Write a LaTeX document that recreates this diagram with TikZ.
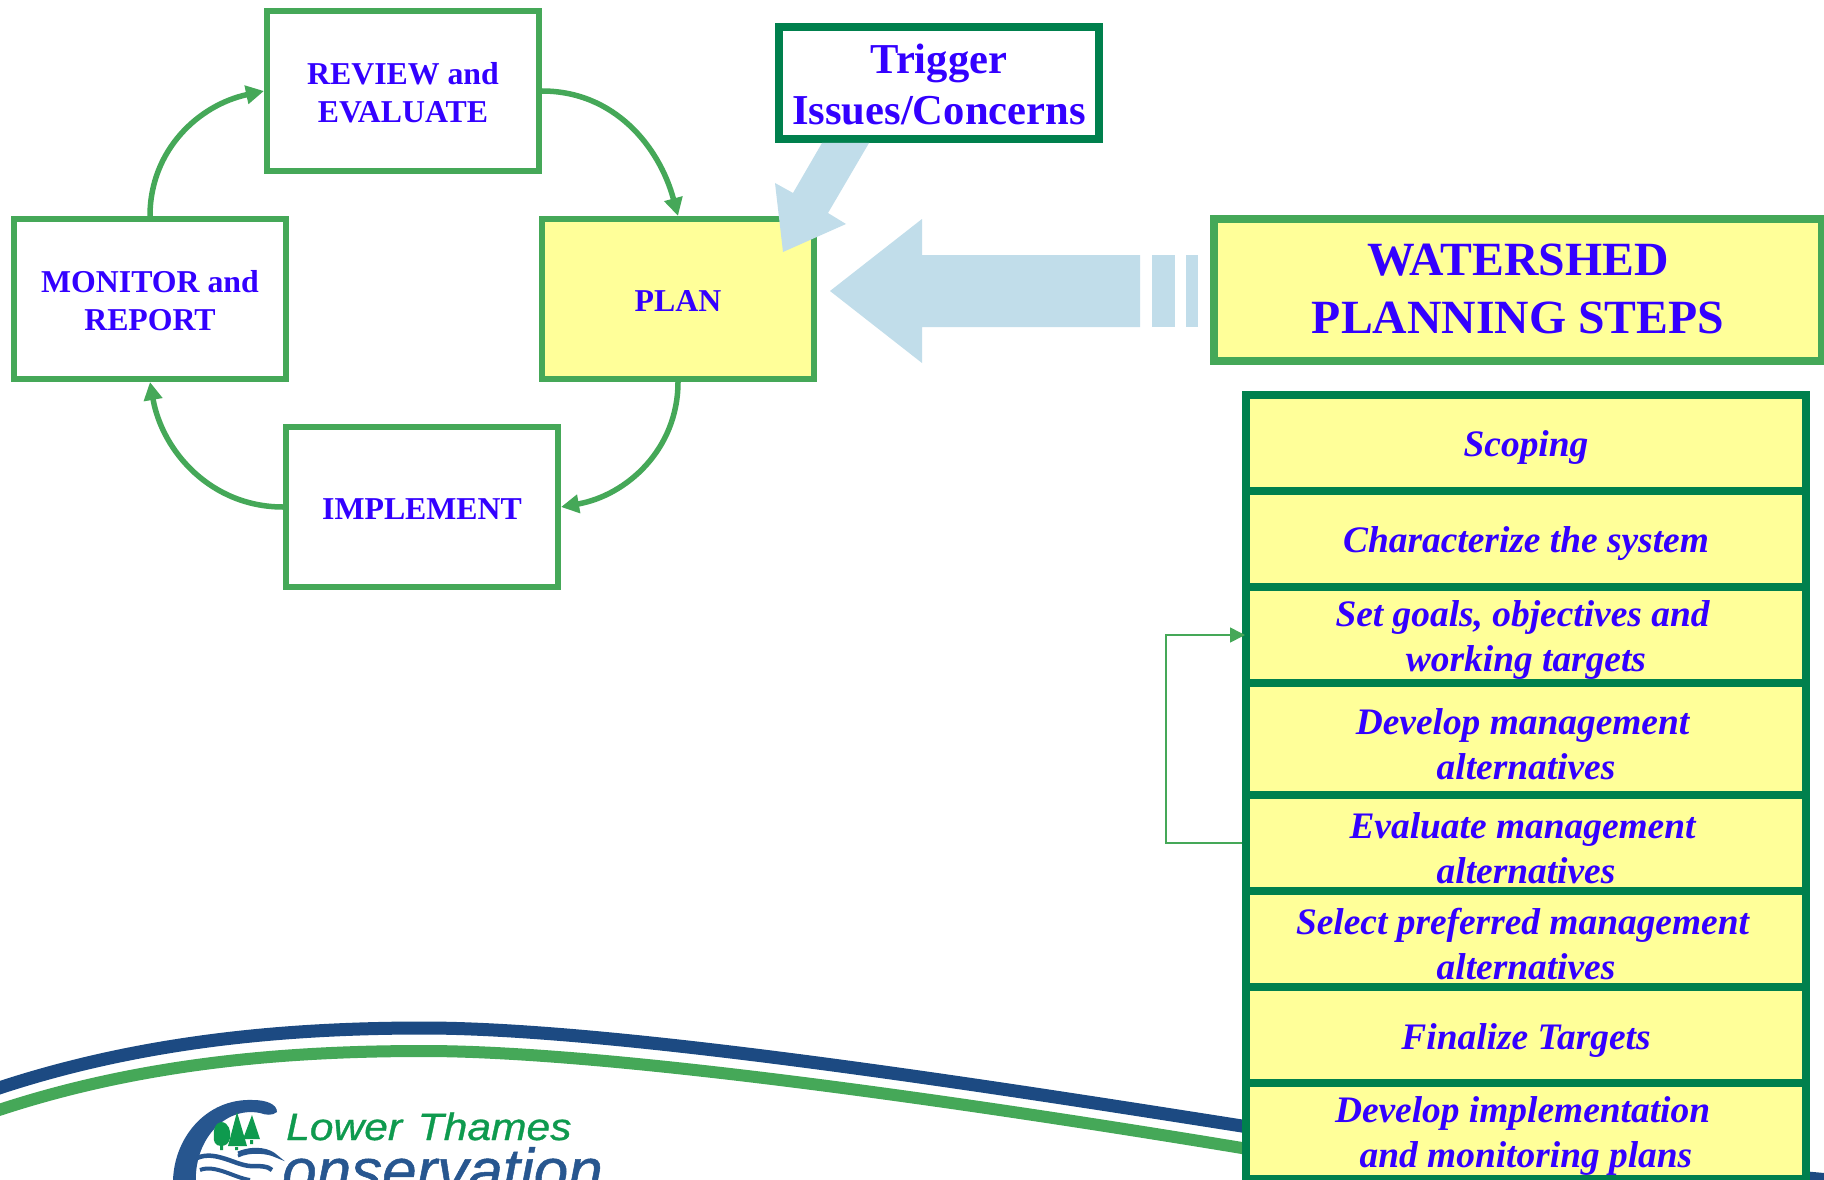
\documentclass[tikz,border=0pt]{standalone}
\usepackage{fontspec}
\setmainfont{Liberation Serif}
\setsansfont{Liberation Sans}
\usetikzlibrary{arrows.meta}
\definecolor{txtblue}{HTML}{3300FF}
\definecolor{paleyellow}{HTML}{FFFF99}
\definecolor{midgreen}{HTML}{45A858}
\definecolor{darkgreen}{HTML}{00804D}
\definecolor{paleblue}{HTML}{C1DDEA}
\definecolor{arcblue}{HTML}{1C4A82}
\definecolor{logoblue}{HTML}{27568F}
\definecolor{logogreen}{HTML}{0E9A4E}
\newcommand{\trailfix}{\hspace*{7pt}}
\tikzset{
  cycletext/.style={inner sep=0pt,align=center,text=txtblue,yshift=-2pt,font=\bfseries\fontsize{31.8}{38}\selectfont},
  cyclebox/.style={draw=midgreen,line width=6pt,fill=white,minimum width=272pt,minimum height=160pt,inner sep=0pt},
  cyclearrow/.style={midgreen,line width=5.5pt,-{Triangle[length=18pt,width=18pt]}},
  steptext/.style={inner sep=0pt,align=center,text=txtblue,yshift=-5pt,font=\bfseries\itshape\fontsize{37.4}{45}\selectfont},
  stepcell/.style={draw=darkgreen,line width=8pt,fill=paleyellow,minimum width=560pt,minimum height=96pt,inner sep=0pt},
  blockarrow/.style={fill=paleblue,draw=none},
  feedback/.style={midgreen,line width=1.6pt,-{Triangle[length=15pt,width=15pt]}}
}
\begin{document}
\begin{tikzpicture}[x=1pt,y=-1pt]
\useasboundingbox (0,0) rectangle (1824,1180);
\clip (0,0) rectangle (1824,1180);
\fill[white] (0,0) rectangle (1824,1180);
% swooping bands
\draw[arcblue,line width=13pt] (-10,1091) .. controls (140,1040) and (290,1028) .. (424,1028) .. controls (620,1028) and (1000,1088) .. (1242,1126) .. controls (1400,1151) and (1640,1162) .. (1840,1181);
\draw[midgreen,line width=12pt] (-10,1113) .. controls (140,1062) and (290,1051) .. (424,1051) .. controls (620,1051) and (1000,1108) .. (1242,1148) .. controls (1350,1166) and (1450,1180) .. (1500,1190);
% logo
\fill[logoblue] (173,1185) .. controls (172,1140) and (205,1098) .. (253,1100) .. controls (266,1100) and (277,1104) .. (277,1112) .. controls (272,1116) and (266,1115) .. (260,1113) .. controls (225,1106) and (193,1140) .. (196,1185) -- cycle;
\fill[logogreen] (221,1122) .. controls (229,1122) and (231,1132) .. (230,1136) .. controls (230,1144) and (225,1146) .. (221,1146) .. controls (215,1146) and (213,1141) .. (214,1136) .. controls (213,1130) and (215,1123) .. (221,1122) -- cycle;
\fill[logogreen] (237,1112) -- (247,1146) -- (228,1146) -- cycle;
\fill[logogreen] (252,1115) -- (260,1139) -- (243,1139) -- cycle;
\fill[logogreen] (220,1146) rectangle (223,1150) (235,1147) rectangle (238,1150) (250,1140) rectangle (253,1144);
\draw[logoblue,line width=3pt] (238,1153) .. controls (255,1146) and (270,1150) .. (276,1156) .. controls (268,1152) and (250,1150) .. (238,1156);
\draw[logoblue,line width=4.5pt] (197,1158) .. controls (215,1150) and (235,1165) .. (250,1166) .. controls (260,1166) and (268,1166) .. (272,1170);
\draw[logoblue,line width=4pt] (200,1170) .. controls (215,1164) and (235,1178) .. (250,1180);
\node[anchor=base west,inner sep=0pt,text=logogreen,font=\sffamily\itshape\fontsize{38}{38}\selectfont] (lt) at (286,1140) {\addfontfeature{FakeBold=0.8}\scalebox{1.12}[1]{Lower\hspace{14pt}Thames}};
\node[anchor=base west,inner sep=0pt,text=logoblue,font=\sffamily\itshape\fontsize{62}{62}\selectfont] (cons) at (282,1192) {\addfontfeature{FakeBold=0.8}onservation};
% step stack
\node[stepcell] (s1) at (1526,443) {};
\node[steptext] (s1t) at (s1.center) {Scoping};
\node[stepcell] (s2) at (1526,539) {};
\node[steptext] (s2t) at (s2.center) {Characterize the system};
\node[stepcell] (s3) at (1526,635) {};
\node[steptext] (s3t) at (s3.center) {Set goals, objectives and\trailfix\\working targets};
\node[stepcell,minimum height=112pt] (s4) at (1526,739) {};
\node[steptext] (s4t) at (s4.center) {Develop management\trailfix\\alternatives};
\node[stepcell] (s5) at (1526,843) {};
\node[steptext] (s5t) at (s5.center) {Evaluate management\trailfix\\alternatives};
\node[stepcell] (s6) at (1526,939) {};
\node[steptext] (s6t) at (s6.center) {Select preferred management\trailfix\\alternatives};
\node[stepcell] (s7) at (1526,1035) {};
\node[steptext] (s7t) at (s7.center) {Finalize Targets};
\node[stepcell] (s8) at (1526,1131) {};
\node[steptext] (s8t) at (s8.center) {Develop implementation\trailfix\\and monitoring plans};
% header
\node[draw=midgreen,line width=8pt,fill=paleyellow,minimum width=608pt,minimum height=142pt,inner sep=0pt] (hdr) at (1518,290) {};
\node[inner sep=0pt,align=center,text=txtblue,yshift=1pt,font=\bfseries\fontsize{47.7}{58}\selectfont] (hdrt) at (hdr.center) {WATERSHED\\PLANNING STEPS};
% cycle
\node[cyclebox] (review) at (403,91) {};
\node[cycletext] (reviewt) at (review.center) {REVIEW and\\EVALUATE};
\node[cyclebox] (monitor) at (150,299) {};
\node[cycletext] (monitort) at (monitor.center) {MONITOR and\\REPORT};
\node[cyclebox,fill=paleyellow] (plan) at (678,299) {};
\node[cycletext] (plant) at (plan.center) {PLAN};
\node[cyclebox] (impl) at (422,507) {};
\node[cycletext] (implt) at (impl.center) {IMPLEMENT};
\draw[cyclearrow] (monitor.north) to[out=90,in=192] (review.west);
\draw[cyclearrow] (review.east) to[out=0,in=105] (plan.north);
\draw[cyclearrow] (plan.south) to[out=270,in=10] (impl.east);
\draw[cyclearrow] (impl.west) to[out=180,in=280] (monitor.south);
% trigger
\node[draw=darkgreen,line width=8pt,fill=white,minimum width=320pt,minimum height=112pt,inner sep=0pt] (trigger) at (939,83) {};
\node[inner sep=0pt,align=center,text=txtblue,yshift=-1pt,font=\bfseries\fontsize{42.6}{51}\selectfont] (triggert) at (trigger.center) {Trigger\\Issues/Concerns};
% block arrows
\fill[blockarrow] (822,143) -- (869,143) -- (828,213) -- (846,224) -- (783,252) -- (775,183) -- (793,193) -- cycle;
\fill[blockarrow] (830,291) -- (922,219) -- (922,255) -- (1140,255) -- (1140,327) -- (922,327) -- (922,363) -- cycle;
\fill[blockarrow] (1152,255) rectangle (1175,327);
\fill[blockarrow] (1186,255) rectangle (1198,327);
% feedback
\coordinate (fbcorner) at (1166,843);
\draw[feedback,shorten >=-3pt] (s5.west) -- (fbcorner) |- (s3.west);
\end{tikzpicture}
\end{document}
